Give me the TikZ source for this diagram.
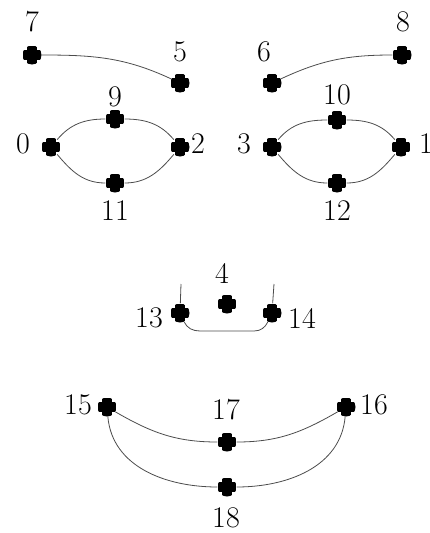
\documentclass[tikz,border=0pt]{standalone}
\begin{document}
\begin{tikzpicture}[x=1pt,y=-1pt,
  mk/.style={circle,minimum size=19pt,inner sep=0pt,
    path picture={
      \fill[black] ([shift={(-9.5pt,-5pt)}]path picture bounding box.center) rectangle ([shift={(9.5pt,5pt)}]path picture bounding box.center);
      \fill[black] ([shift={(-5pt,-9.5pt)}]path picture bounding box.center) rectangle ([shift={(5pt,9.5pt)}]path picture bounding box.center);
    }},
  lbl/.style={inner sep=0pt,font=\fontsize{30}{36}\selectfont},
  con/.style={draw=black!70,line width=0.8pt}]
\useasboundingbox (0,0) rectangle (430,533);
% markers
\node[mk] (n7) at (32,55) {};
\node[mk] (n5) at (180,83) {};
\node[mk] (n6) at (272,83) {};
\node[mk] (n8) at (402,55) {};
\node[mk] (n9) at (115,119) {};
\node[mk] (n0) at (51,147) {};
\node[mk] (n2) at (180,147) {};
\node[mk] (n11) at (115,183) {};
\node[mk] (n10) at (337,120) {};
\node[mk] (n3) at (272,147) {};
\node[mk] (n1) at (401,147) {};
\node[mk] (n12) at (337,183) {};
\node[mk] (n4) at (227,304) {};
\node[mk] (n13) at (180,313) {};
\node[mk] (n14) at (272,313) {};
\node[mk] (n15) at (107,407) {};
\node[mk] (n16) at (346,407) {};
\node[mk] (n17) at (227,442) {};
\node[mk] (n18) at (227,487) {};
% labels
\node[lbl] (l7) at (32,22) {7};
\node[lbl] (l5) at (180,52) {5};
\node[lbl] (l6) at (264,52) {6};
\node[lbl] (l8) at (403,22) {8};
\node[lbl] (l9) at (115,97) {9};
\node[lbl] (l0) at (23,144) {0};
\node[lbl] (l2) at (198,144) {2};
\node[lbl] (l11) at (115,211) {11};
\node[lbl] (l10) at (337,95) {10};
\node[lbl] (l3) at (244,144) {3};
\node[lbl] (l1) at (426,144) {1};
\node[lbl] (l12) at (337,211) {12};
\node[lbl] (l4) at (222,273) {4};
\node[lbl] (l13) at (149,318) {13};
\node[lbl] (l14) at (302,318) {14};
\node[lbl] (l15) at (78,405) {15};
\node[lbl] (l16) at (374,405) {16};
\node[lbl] (l17) at (226,410) {17};
\node[lbl] (l18) at (226,518) {18};
% connectors
\draw[con] (n7) to[out=0,in=155] (n5);
\draw[con] (n6) to[out=25,in=180] (n8);
\draw[con] (n0) to[out=50,in=180] (n9);
\draw[con] (n9) to[out=0,in=130] (n2);
\draw[con] (n2) to[out=-130,in=0] (n11);
\draw[con] (n11) to[out=180,in=-50] (n0);
\draw[con] (n3) to[out=50,in=180] (n10);
\draw[con] (n10) to[out=0,in=130] (n1);
\draw[con] (n1) to[out=-130,in=0] (n12);
\draw[con] (n12) to[out=180,in=-50] (n3);
\coordinate (t13) at (181,284);
\coordinate (t14) at (274,284);
\coordinate (c1) at (200,331);
\coordinate (c2) at (254,331);
\draw[con] (t13) -- (n13);
\draw[con] (t14) -- (n14);
\draw[con] (n13) to[out=-65,in=180] (c1) -- (c2) to[out=0,in=-115] (n14);
\draw[con] (n15) to[out=-30,in=180] (n17);
\draw[con] (n17) to[out=0,in=-150] (n16);
\draw[con] (n15) to[out=-85,in=180] (n18);
\draw[con] (n18) to[out=0,in=-95] (n16);
\end{tikzpicture}
\end{document}
